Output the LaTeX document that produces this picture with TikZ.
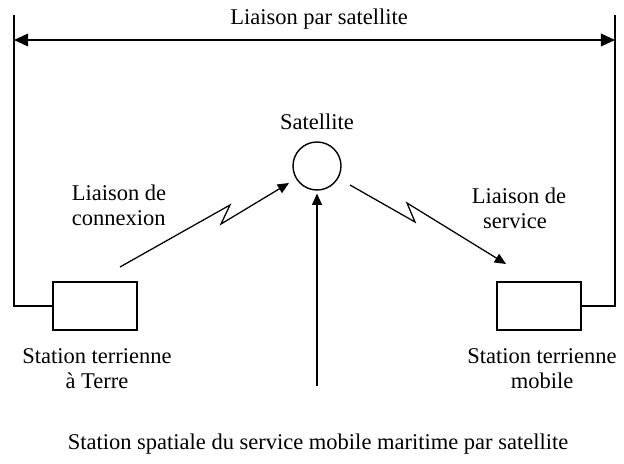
\documentclass[tikz,border=0pt]{standalone}
\usepackage{fontspec}
\setmainfont{Liberation Serif}
\usetikzlibrary{arrows.meta}

\tikzset{
    label text/.style={font=\fontsize{16}{18}\selectfont, inner sep=1pt},
    station/.style={draw, line width=1pt, minimum width=2.1cm, minimum height=1.2cm},
    link/.style={line width=0.9pt, -{Triangle[length=8pt, width=7pt]}},
}

\begin{document}
\begin{tikzpicture}[x=0.025cm, y=-0.025cm]
    \useasboundingbox (0,0) rectangle (624,464);

    % First, locate each of the nodes and name them
        \node[label text] (title) at (319,19) {Liaison par satellite};
        \node[label text] (satname) at (317,122) {Satellite};
        \node[draw, circle, line width=1pt, minimum size=1.2cm, inner sep=0pt] (sat) at (317,166) {};
        \node[station] (terre) at (95,306) {};
        \node[station] (mobile) at (539,306) {};
        \node[label text, align=center] (terretext) at (97,369) {Station terrienne\\à Terre};
        \node[label text, align=center] (mobiletext) at (542,369) {Station terrienne\\mobile};
        \node[label text, align=left] (connexion) at (119,205) {Liaison de\\connexion};
        \node[label text, align=left] (service) at (519,208) {Liaison de\\\hspace{0.5em}service};
        \node[label text] (spatiale) at (318,444) {Station spatiale du service mobile maritime par satellite};

    % Coordinates for the free ends
        \coordinate (lefttop) at (14,15);
        \coordinate (righttop) at (615,15);
        \coordinate (leftend) at (14,40);
        \coordinate (rightend) at (615,40);
        \coordinate (upA) at (120,267);
        \coordinate (upB) at (230,205);
        \coordinate (upC) at (221,224);
        \coordinate (upD) at (289,183);
        \coordinate (downA) at (350,185);
        \coordinate (downB) at (415,222);
        \coordinate (downC) at (407,203);
        \coordinate (downD) at (506,264);
        \coordinate (spacebottom) at (317,386);

    % Now draw the lines:
        \draw [line width=1pt] (terre.west) -| (lefttop);
        \draw [line width=1pt] (mobile.east) -| (righttop);
        \draw [line width=1pt, {Triangle[length=10pt, width=9pt]}-{Triangle[length=10pt, width=9pt]}] (leftend) -- (rightend);
        \draw [link] (upA) -- (upB) -- (upC) -- (upD);
        \draw [link] (downA) -- (downB) -- (downC) -- (downD);
        \draw [link, shorten >=2pt] (spacebottom) -- (sat.south);
    \end{tikzpicture}
\end{document}
